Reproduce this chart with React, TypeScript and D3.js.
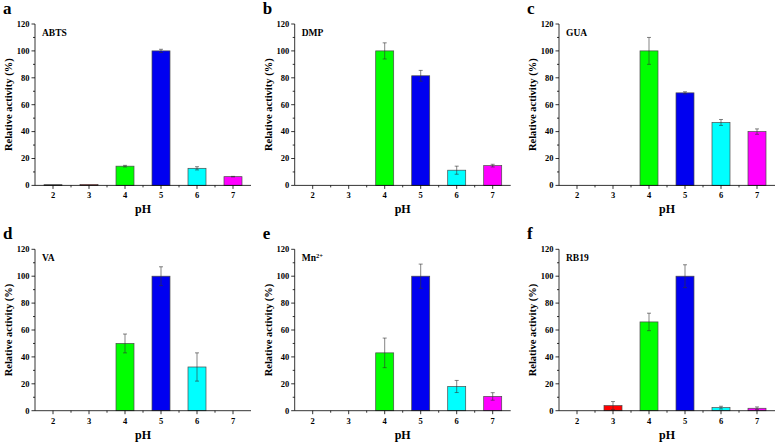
import React from 'react';
import * as d3 from 'd3';

const phValues = [2, 3, 4, 5, 6, 7];
const barColors = ['#000000', '#ff0000', '#00ff00', '#0000f0', '#00ffff', '#ff00ff'];
const yTicks = [0, 20, 40, 60, 80, 100, 120];

// null = no bar at that pH
const abtsMean = [0.5, 0.6, 14.3, 100, 12.7, 6.5];
const abtsErr = [0, 0, 0.6, 1.2, 1.2, 0.2];
const dmpMean = [null, null, 100, 81.5, 11.3, 14.7];
const dmpErr = [0, 0, 6, 4, 3, 1];
const guaMean = [null, null, 100, 68.8, 46.8, 40];
const guaErr = [0, 0, 10, 0.8, 2.2, 2];
const vaMean = [null, null, 50, 100, 32.5, null];
const vaErr = [0, 0, 7, 7, 10.5, 0];
const mnMean = [null, null, 43, 100, 18, 10.6];
const mnErr = [0, 0, 11, 9, 4.5, 2.8];
const rbMean = [null, 3.8, 66, 100, 2.3, 1.8];
const rbErr = [0, 3, 6.5, 8.5, 1, 1];

const panels = [
  { letter: 'a', name: 'ABTS', mean: abtsMean, err: abtsErr, x0: 35, y0: 24 },
  { letter: 'b', name: 'DMP', mean: dmpMean, err: dmpErr, x0: 294.7, y0: 24 },
  { letter: 'c', name: 'GUA', mean: guaMean, err: guaErr, x0: 559, y0: 24 },
  { letter: 'd', name: 'VA', mean: vaMean, err: vaErr, x0: 35, y0: 249.3 },
  { letter: 'e', name: 'Mn', sup: '2+', mean: mnMean, err: mnErr, x0: 294.7, y0: 249.3 },
  { letter: 'f', name: 'RB19', mean: rbMean, err: rbErr, x0: 559, y0: 249.3 },
];

const W = 216;
const H = 161.4;
const font = "'Liberation Serif', 'Times New Roman', Times, serif";

function Panel({ p }: { p: typeof panels[number] }) {
  const x = d3.scaleLinear().domain([1.5, 7.5]).range([0, W]);
  const y = d3.scaleLinear().domain([0, 120]).range([H, 0]);
  const bw = (x(3) - x(2)) * 0.5;
  const minorY = d3.range(10, 120, 20);
  const minorX = d3.range(2.5, 7.5, 1);
  return (
    <g transform={`translate(${p.x0},${p.y0})`} style={{ fontFamily: font, fontWeight: 'bold' }}>
      <text x={-32} y={-10} fontSize={17}>{p.letter}</text>
      {p.mean.map((v, i) => {
        if (v === null) return null;
        const cx = x(phValues[i]);
        const e = p.err[i];
        return (
          <g key={i}>
            <rect x={cx - bw / 2} y={y(v)} width={bw} height={H - y(v)}
              fill={barColors[i]} stroke="#4a4a4a" strokeWidth={0.7} />
            {e > 0 && (
              <g stroke="#333" strokeWidth={0.6}>
                <line x1={cx} x2={cx} y1={y(v + e)} y2={y(v - e)} />
                <line x1={cx - 2} x2={cx + 2} y1={y(v + e)} y2={y(v + e)} />
                <line x1={cx - 2} x2={cx + 2} y1={y(v - e)} y2={y(v - e)} />
              </g>
            )}
          </g>
        );
      })}
      <g stroke="#000" strokeWidth={0.8}>
        <line x1={0} x2={0} y1={0} y2={H} />
        <line x1={0} x2={W} y1={H} y2={H} />
        {yTicks.map(t => <line key={t} x1={-3.5} x2={0} y1={y(t)} y2={y(t)} />)}
        {minorY.map(t => <line key={t} x1={-2} x2={0} y1={y(t)} y2={y(t)} />)}
        {phValues.map(t => <line key={t} x1={x(t)} x2={x(t)} y1={H} y2={H + 3.5} />)}
        {minorX.map(t => <line key={t} x1={x(t)} x2={x(t)} y1={H} y2={H + 2} />)}
      </g>
      {yTicks.map(t => (
        <text key={t} x={-5.5} y={y(t)} dy="0.33em" fontSize={8.5} textAnchor="end">{t}</text>
      ))}
      {phValues.map(t => (
        <text key={t} x={x(t)} y={H + 13} fontSize={8.5} textAnchor="middle">{t}</text>
      ))}
      <text x={x(4.5)} y={H + 28} fontSize={12} textAnchor="middle">pH</text>
      <text transform={`translate(-23,${H / 2}) rotate(-90)`} fontSize={10.5} textAnchor="middle">
        Relative activity (%)
      </text>
      <text x={7} y={12} fontSize={9.5}>
        {p.name}
        {p.sup && <tspan dy={-3} fontSize={6.5}>{p.sup}</tspan>}
      </text>
    </g>
  );
}

export default function App() {
  return (
    <svg width={781} height={442} style={{ position: 'absolute', left: 0, top: 0, background: '#fff' }}>
      <rect width={781} height={442} fill="#fff" />
      {panels.map(p => <Panel key={p.letter} p={p} />)}
    </svg>
  );
}
